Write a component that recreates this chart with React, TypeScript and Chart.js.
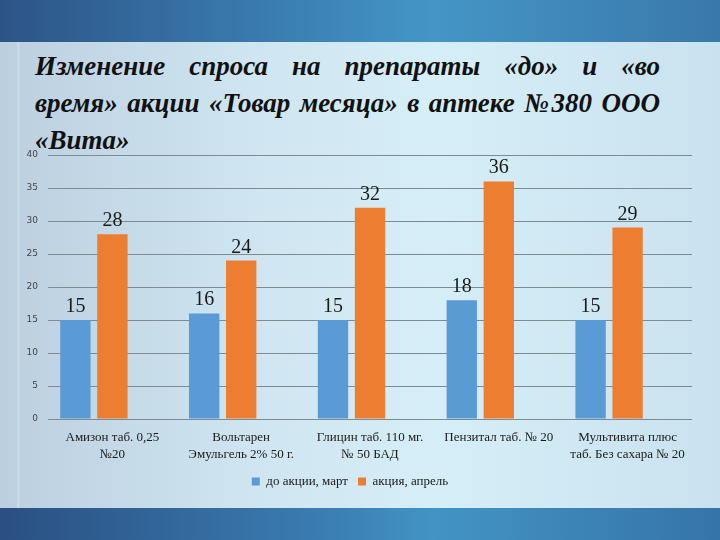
import React, { useEffect, useRef } from "react";
import { Chart, registerables } from "chart.js";

Chart.register(...registerables);

const categories: (string | string[])[] = [
  ["Амизон таб. 0,25", "№20"],
  ["Вольтарен", "Эмульгель 2% 50 г."],
  ["Глицин таб. 110 мг.", "№ 50 БАД"],
  "Пензитал таб. № 20",
  ["Мультивита плюс", "таб. Без сахара № 20"],
];
const beforeValues = [15, 16, 15, 18, 15];
const duringValues = [28, 24, 32, 36, 29];
const emptySeries: (number | null)[] = [null, null, null, null, null];
const seriesNames = ["до акции, март", "акция, апрель"];
const titleLines = [
  "Изменение спроса на препараты «до» и «во",
  "время» акции «Товар месяца» в аптеке №380 ООО",
  "«Вита»",
];

const valueLabels = {
  id: "valueLabels",
  afterDatasetsDraw(chart: any) {
    const ctx = chart.ctx;
    ctx.save();
    ctx.font = '20px "Liberation Serif"';
    ctx.fillStyle = "#1a1a1a";
    ctx.textAlign = "center";
    ctx.textBaseline = "alphabetic";
    chart.data.datasets.forEach((ds: any, i: number) => {
      const meta = chart.getDatasetMeta(i);
      if (meta.hidden) return;
      meta.data.forEach((bar: any, j: number) => {
        const v = ds.data[j];
        if (v === null || v === undefined) return;
        ctx.fillText(String(v), bar.x, bar.y - 8);
      });
    });
    ctx.restore();
  },
};

export default function App() {
  const ref = useRef<HTMLCanvasElement>(null);
  useEffect(() => {
    document.body.style.margin = "0";
    const common = { categoryPercentage: 0.862, barPercentage: 0.82 };
    const chart = new Chart(ref.current as HTMLCanvasElement, {
      type: "bar",
      data: {
        labels: categories,
        datasets: [
          { label: seriesNames[0], data: beforeValues, backgroundColor: "#5b9bd5", ...common },
          { label: seriesNames[1], data: duringValues, backgroundColor: "#ed7d31", ...common },
          { label: "", data: emptySeries, backgroundColor: "rgba(0,0,0,0)", ...common },
        ],
      },
      options: {
        animation: false,
        responsive: false,
        layout: { padding: { left: 8, right: 28, top: 155, bottom: 42 } },
        scales: {
          x: {
            grid: { display: false, drawTicks: false },
            border: { display: false },
            afterFit: (s: any) => {
              s.height = 46;
            },
            ticks: {
              color: "#1a1a1a",
              font: { family: "Liberation Serif", size: 13, lineHeight: 1.3 },
              padding: 10,
              maxRotation: 0,
              autoSkip: false,
            },
          },
          y: {
            min: 0,
            max: 40,
            afterFit: (s: any) => {
              s.width = 40;
            },
            ticks: {
              stepSize: 5,
              color: "#444",
              font: { family: "DejaVu Sans", size: 9 },
              padding: 10,
            },
            grid: { color: "#7f8b93", lineWidth: 1, drawTicks: false },
            border: { display: false },
          },
        },
        plugins: {
          title: { display: false },
          tooltip: { enabled: false },
          legend: {
            position: "bottom",
            labels: {
              boxWidth: 8,
              boxHeight: 8,
              padding: 10,
              color: "#1a1a1a",
              font: { family: "Liberation Serif", size: 13 },
              filter: (item: any) => item.text !== "",
            },
          },
        },
      },
      plugins: [valueLabels],
    });
    return () => chart.destroy();
  }, []);

  const bg =
    "linear-gradient(90deg, rgba(255,255,255,0) 0px, rgba(255,255,255,0) 17px, rgba(255,255,255,0.35) 18px, rgba(255,255,255,0) 20px), linear-gradient(90deg, #bccfdf 0%, #cfe5f1 35%, #d6eef7 60%, #c9e2ef 100%)";

  return (
    <div
      style={{
        position: "fixed",
        left: 0,
        top: 0,
        width: 720,
        height: 540,
        overflow: "hidden",
        background: bg,
      }}
    >
      <div
        style={{
          position: "absolute",
          left: 0,
          top: 0,
          width: 720,
          height: 42,
          background: "linear-gradient(90deg, #2d5487 0%, #3b7fb3 40%, #4496c6 60%, #3a78ab 100%)",
        }}
      />
      <div
        style={{
          position: "absolute",
          left: 0,
          top: 508,
          width: 720,
          height: 32,
          background: "linear-gradient(90deg, #2a4f82 0%, #3a7db2 45%, #4294c4 60%, #3674a8 100%)",
        }}
      />
      <div
        style={{
          position: "absolute",
          left: 35,
          top: 48,
          width: 625,
          fontFamily: '"Liberation Serif", serif',
          fontWeight: "bold",
          fontStyle: "italic",
          fontSize: 27,
          lineHeight: "37px",
          color: "#111",
        }}
      >
        {titleLines.map((t, i) => (
          <div
            key={i}
            style={{
              textAlign: i < titleLines.length - 1 ? "justify" : "left",
              textAlignLast: i < titleLines.length - 1 ? "justify" : "left",
            }}
          >
            {t}
          </div>
        ))}
      </div>
      <canvas
        ref={ref}
        width={720}
        height={540}
        style={{ position: "absolute", left: 0, top: 0, width: 720, height: 540 }}
      />
    </div>
  );
}
